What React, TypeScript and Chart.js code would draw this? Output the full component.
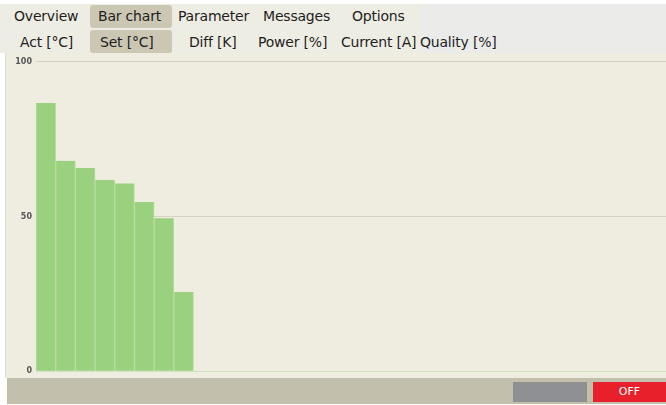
import React, { useEffect, useRef } from "react";
import { Chart, registerables } from "chart.js";

Chart.register(...registerables);

const zones = [
  "1", "2", "3", "4", "5", "6", "7", "8", "9", "10", "11", "12", "13", "14", "15", "16",
  "17", "18", "19", "20", "21", "22", "23", "24", "25", "26", "27", "28", "29", "30", "31", "32",
];
const setValues = [
  86.7, 68.0, 65.7, 61.8, 60.7, 54.7, 49.4, 25.6,
  null, null, null, null, null, null, null, null,
  null, null, null, null, null, null, null, null,
  null, null, null, null, null, null, null, null,
];
const yMin = 0;
const yMax = 100;
const yStep = 50;

const menuTabs = ["Overview", "Bar chart", "Parameter", "Messages", "Options"];
const menuX = [14, 98, 178, 263, 352];
const valueTabs = ["Act [°C]", "Set [°C]", "Diff [K]", "Power [%]", "Current [A]", "Quality [%]"];
const valueX = [20, 100, 189, 258, 341, 420];

const CREAM = "#efede0";
const FONT = "'DejaVu Sans', sans-serif";

export default function App() {
  const ref = useRef<HTMLCanvasElement | null>(null);

  useEffect(() => {
    document.body.style.margin = "0";
    const chart = new Chart(ref.current as HTMLCanvasElement, {
      type: "bar",
      data: {
        labels: zones,
        datasets: [
          {
            data: setValues as any,
            backgroundColor: "#9ad17e",
            borderColor: "#b6de9f",
            borderWidth: { left: 1, right: 1, top: 0, bottom: 0 } as any,
            borderSkipped: false,
            barPercentage: 1,
            categoryPercentage: 1,
          },
        ],
      },
      options: {
        animation: false,
        responsive: false,
        maintainAspectRatio: false,
        layout: { padding: { top: 8, bottom: 0, left: 0, right: 0 } },
        plugins: { legend: { display: false }, tooltip: { enabled: false } },
        scales: {
          x: { display: false, offset: true, grid: { display: false } },
          y: {
            min: yMin,
            max: yMax,
            border: { display: false },
            afterFit: (s: any) => {
              s.width = 30;
            },
            grid: {
              drawTicks: false,
              lineWidth: 1,
              color: (ctx: any) => (ctx.tick && ctx.tick.value === 0 ? "#cfe2c0" : "#d4d2c2"),
            },
            ticks: {
              stepSize: yStep,
              padding: 4,
              color: "#555",
              font: { size: 8, family: FONT, weight: "bold" },
            },
          },
        },
      },
    });
    return () => chart.destroy();
  }, []);

  const tab = (text: string, x: number, y: number, key: string) => (
    <div
      key={key}
      style={{
        position: "absolute",
        left: x,
        top: y,
        height: 22,
        lineHeight: "22px",
        fontSize: 14,
        fontFamily: FONT,
        color: "#1e1e1e",
        whiteSpace: "nowrap",
        letterSpacing: -0.2,
      }}
    >
      {text}
    </div>
  );

  return (
    <div
      style={{
        position: "fixed",
        left: 0,
        top: 0,
        width: 666,
        height: 405,
        background: "#ffffff",
        overflow: "hidden",
      }}
    >
      {/* header background */}
      <div style={{ position: "absolute", left: 0, top: 4, width: 666, height: 49, background: "#ebebea" }} />
      <div style={{ position: "absolute", left: 0, top: 4, width: 420, height: 49, background: "#eeede3" }} />
      {/* active highlights */}
      <div style={{ position: "absolute", left: 90, top: 5, width: 82, height: 23, background: "#cbc7b3", borderRadius: 3 }} />
      <div style={{ position: "absolute", left: 90, top: 30, width: 82, height: 23, background: "#cbc7b3", borderRadius: 3 }} />
      {menuTabs.map((t, i) => tab(t, menuX[i], 5, "m" + i))}
      {valueTabs.map((t, i) => tab(t, valueX[i], 31, "v" + i))}
      {/* chart area */}
      <div style={{ position: "absolute", left: 6, top: 53, width: 660, height: 325, background: CREAM }} />
      <div style={{ position: "absolute", left: 5, top: 53, width: 1, height: 325, background: "#dcdcd8" }} />
      <canvas
        ref={ref}
        width={660}
        height={327}
        style={{ position: "absolute", left: 6, top: 53, width: 660, height: 327 }}
      />
      {/* bottom status bar */}
      <div style={{ position: "absolute", left: 7, top: 378, width: 659, height: 26, background: "#c3bfad" }} />
      <div style={{ position: "absolute", left: 513, top: 382, width: 74, height: 20, background: "#8f9093" }} />
      <div
        style={{
          position: "absolute",
          left: 593,
          top: 382,
          width: 73,
          height: 20,
          background: "#e8202b",
          color: "#fff",
          fontFamily: FONT,
          fontSize: 11,
          lineHeight: "20px",
          textAlign: "center",
        }}
      >
        OFF
      </div>
    </div>
  );
}
